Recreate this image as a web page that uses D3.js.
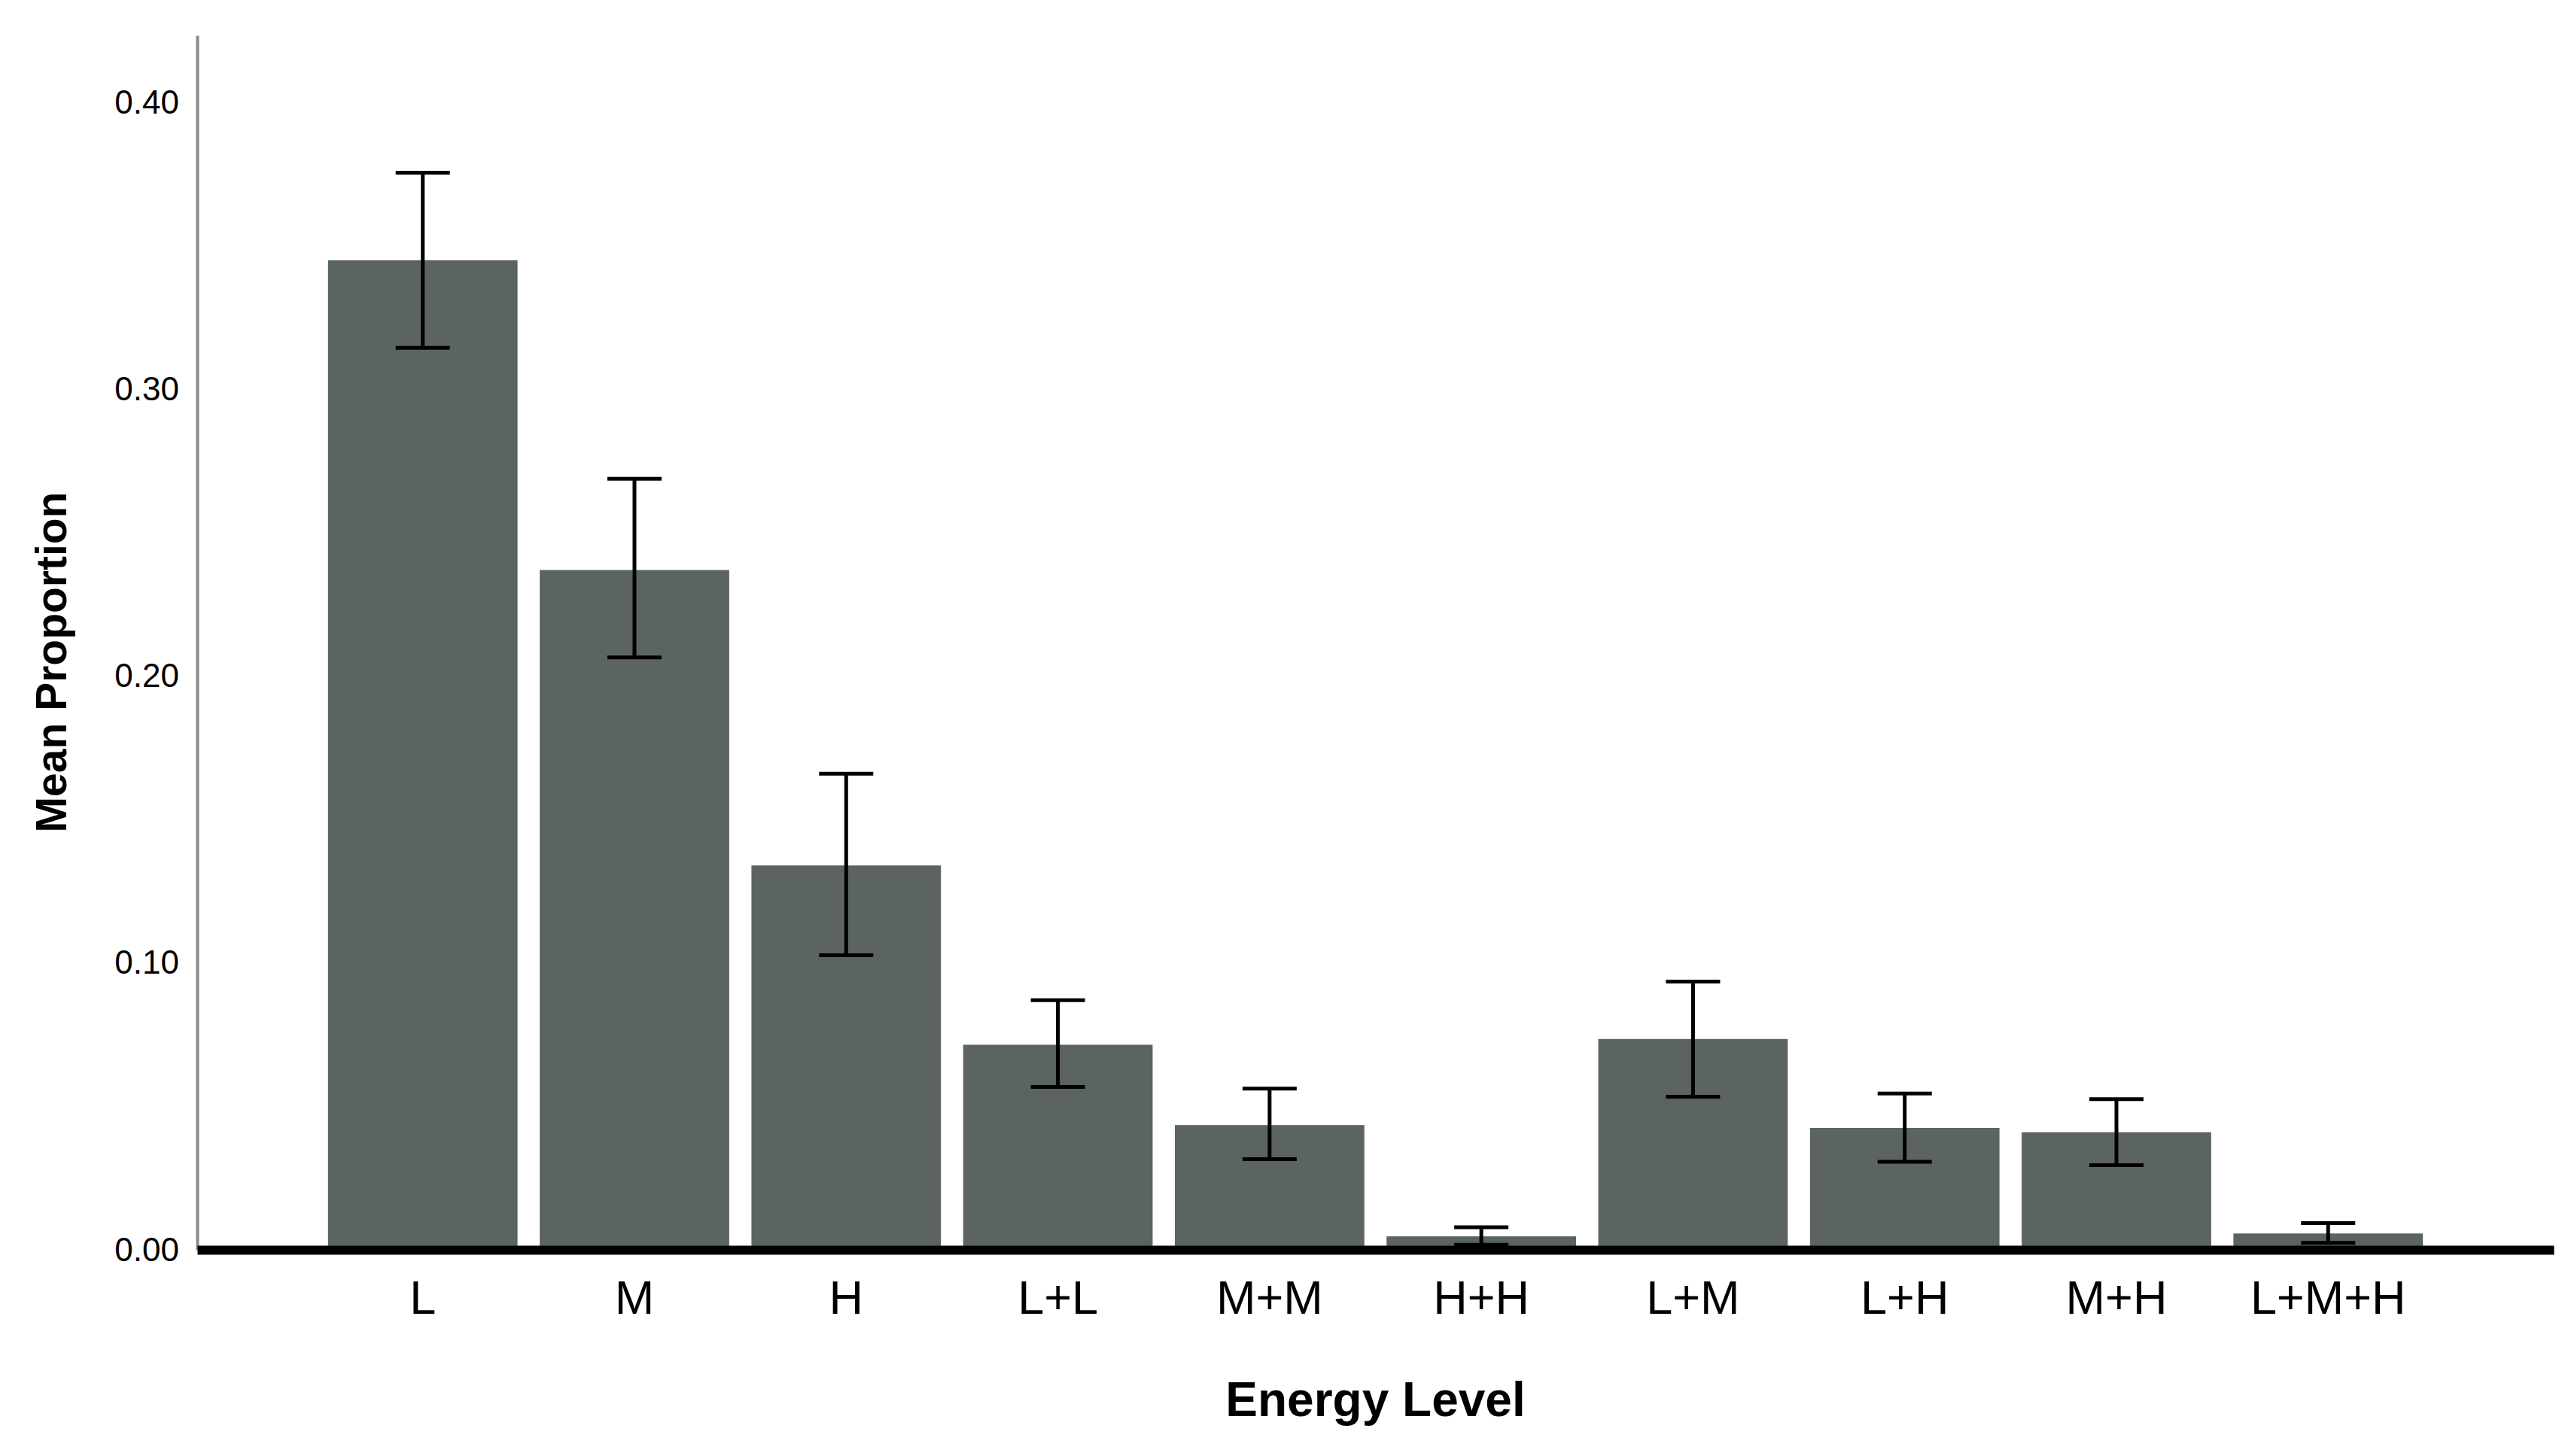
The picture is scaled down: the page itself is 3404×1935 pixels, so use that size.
<!DOCTYPE html>
<html>
<head>
<meta charset="utf-8">
<script src="https://cdn.jsdelivr.net/npm/d3@7"></script>
<style>
  body{margin:0;background:#fff}
  svg{display:block}
  text{font-family:"Liberation Sans",Arial,sans-serif}
</style>
</head>
<body>
<div id="graph"></div>
<script>
// data
const categories=["L","M","H","L+L","M+M","H+H","L+M","L+H","M+H","L+M+H"]
const means=[0.345,0.237,0.134,0.0715,0.0435,0.0047,0.0735,0.0425,0.041,0.0057]
const upper=[0.3755,0.2688,0.166,0.087,0.0562,0.0079,0.0935,0.0545,0.0525,0.0093]
const lower=[0.3145,0.2065,0.1027,0.0568,0.0316,0.0018,0.0534,0.0307,0.0295,0.0024]
const yTicks=[0,0.1,0.2,0.3,0.4]
const yMax=0.4234
const xTitle="Energy Level"
const yTitle="Mean Proportion"

let width=3404
let height=1935

let rows=categories.map((c,i)=>({cat:c,mean:means[i],hi:upper[i],lo:lower[i]}))

let canvas=d3.select("#graph")
.append("svg")
.attr("width",width)
.attr("height",height)
.style("background","#fff")

// scales
let xScale=d3.scaleBand()
.domain(categories)
.range([262,3393])
.paddingInner(0.105)
.paddingOuter(0.618)

let yScale=d3.scaleLinear()
.domain([0,yMax])
.range([1661,47])

// y axis (gray thin line, no tick marks)
let yAxis=d3.axisLeft(yScale)
.tickValues(yTicks)
.tickFormat(d3.format(".2f"))
.tickSize(0)
.tickPadding(24)

let gy=canvas.append("g")
.attr("transform","translate(262,0)")
.call(yAxis)
gy.select(".domain").attr("stroke","#8a8a8a").attr("stroke-width",4)
gy.selectAll("text").attr("font-size",44).attr("fill","#000")

// bars
canvas.selectAll("rect.bar")
.data(rows)
.enter().append("rect")
.attr("class","bar")
.attr("x",d=>xScale(d.cat))
.attr("width",xScale.bandwidth())
.attr("y",d=>yScale(d.mean))
.attr("height",d=>yScale(0)-yScale(d.mean))
.style("fill","#5b645f")

// x axis (thick black baseline)
let xAxis=d3.axisBottom(xScale)
.tickSize(0)
.tickPadding(40)

let gx=canvas.append("g")
.attr("transform","translate(0,1661)")
.call(xAxis)
gx.select(".domain").attr("stroke","#000").attr("stroke-width",12)
gx.selectAll("text").attr("font-size",63).attr("fill","#000")

// error bars
let cap=36
let err=canvas.append("g")
.attr("stroke","#000")
.attr("stroke-width",5)
.selectAll("g")
.data(rows)
.enter().append("g")
.attr("transform",d=>`translate(${xScale(d.cat)+xScale.bandwidth()/2},0)`)

err.append("line")
.attr("y1",d=>yScale(d.hi))
.attr("y2",d=>yScale(d.lo))
err.append("line")
.attr("x1",-cap).attr("x2",cap)
.attr("y1",d=>yScale(d.hi)).attr("y2",d=>yScale(d.hi))
err.append("line")
.attr("x1",-cap).attr("x2",cap)
.attr("y1",d=>yScale(d.lo)).attr("y2",d=>yScale(d.lo))

// titles
canvas.append("text")
.attr("x",(262+3393)/2)
.attr("y",1882)
.attr("text-anchor","middle")
.attr("font-size",64)
.attr("font-weight","bold")
.text(xTitle)

canvas.append("text")
.attr("transform","translate(88,880) rotate(-90)")
.attr("text-anchor","middle")
.attr("font-size",57)
.attr("font-weight","bold")
.text(yTitle)
</script>
</body>
</html>
